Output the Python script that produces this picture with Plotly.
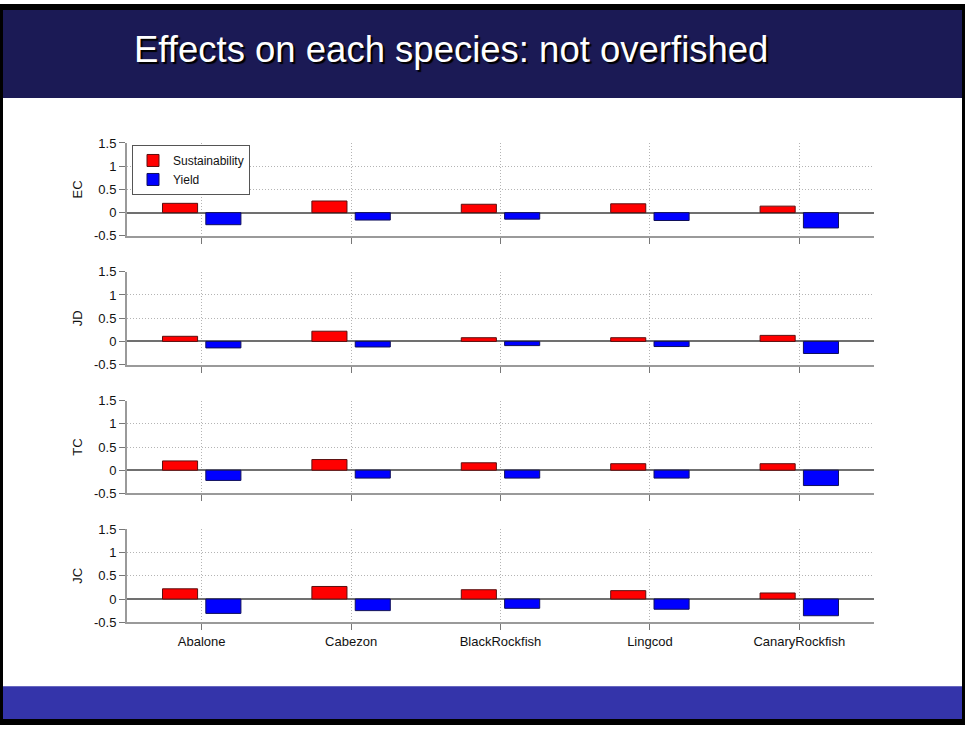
import plotly.graph_objects as go

# data
species = ["Abalone", "Cabezon", "BlackRockfish", "Lingcod", "CanaryRockfish"]
panels = ["EC", "JD", "TC", "JC"]

sustain_ec = [0.20, 0.25, 0.18, 0.19, 0.14]
yield_ec = [-0.26, -0.16, -0.14, -0.17, -0.33]
sustain_jd = [0.11, 0.22, 0.08, 0.08, 0.13]
yield_jd = [-0.14, -0.12, -0.09, -0.11, -0.26]
sustain_tc = [0.20, 0.23, 0.16, 0.14, 0.14]
yield_tc = [-0.22, -0.17, -0.17, -0.17, -0.33]
sustain_jc = [0.22, 0.27, 0.20, 0.18, 0.13]
yield_jc = [-0.31, -0.25, -0.20, -0.22, -0.36]

y_ticks = [-0.5, 0, 0.5, 1, 1.5]
y_ticktext = ["-0.5", "0", "0.5", "1", "1.5"]

sustain_all = [sustain_ec, sustain_jd, sustain_tc, sustain_jc]
yield_all = [yield_ec, yield_jd, yield_tc, yield_jc]

W, H = 965, 730
xpos = list(range(1, len(species) + 1))
FONT = "Liberation Sans, Arial, sans-serif"


def py(y):
    # pixel row on the slide -> paper fraction (small correction for the page capture)
    return 1 - ((y - 5.8) / 0.981) / H


# pixel extents of each panel (top = 1.5, bottom = -0.5)
panel_px = [(142, 235), (271, 364), (400, 493), (529, 622)]

fig = go.Figure()

for i, name in enumerate(panels):
    ax = "" if i == 0 else str(i + 1)
    fig.add_trace(go.Bar(
        x=xpos, y=sustain_all[i], name="Sustainability",
        marker=dict(color="#ff0000", line=dict(color="#5a1010", width=1)),
        showlegend=(i == 0), xaxis="x" + ax, yaxis="y" + ax,
    ))
    fig.add_trace(go.Bar(
        x=xpos, y=yield_all[i], name="Yield",
        marker=dict(color="#0000ff", line=dict(color="#10105a", width=1)),
        showlegend=(i == 0), xaxis="x" + ax, yaxis="y" + ax,
    ))

    top, bot = panel_px[i]
    last = i == len(panels) - 1
    fig.layout["xaxis" + ax] = dict(
        domain=[127 / W, 874 / W],
        range=[0.5, 5.5],
        anchor="y" + ax,
        tickvals=xpos,
        ticktext=species,
        showticklabels=last,
        ticks="outside", ticklen=6, tickcolor="#777777", tickwidth=1,
        showgrid=True, gridcolor="#b4b4b4", griddash="1px,2px", gridwidth=1,
        showline=True, linecolor="#9a9a9a", linewidth=2,
        zeroline=False,
        tickfont=dict(size=13, color="#111111", family=FONT),
        fixedrange=True,
    )
    fig.layout["yaxis" + ax] = dict(
        domain=[py(bot), py(top)],
        range=[-0.5, 1.5],
        anchor="x" + ax,
        tickvals=y_ticks, ticktext=y_ticktext,
        ticks="outside", ticklen=6, tickcolor="#777777",
        showgrid=True, gridcolor="#b4b4b4", griddash="1px,2px", gridwidth=1,
        showline=True, linecolor="#9a9a9a", linewidth=2,
        zeroline=True, zerolinecolor="#707070", zerolinewidth=1.5,
        tickfont=dict(size=13, color="#111111", family=FONT),
        title=dict(text=name, standoff=8,
                   font=dict(size=13, color="#111111", family=FONT)),
        fixedrange=True,
    )

# slide decoration: header band, footer band, black frame
fig.add_shape(type="rect", xref="paper", yref="paper", x0=0, x1=1, y0=py(97), y1=1,
              fillcolor="#1b1a55", line_width=0, layer="below")
fig.add_shape(type="rect", xref="paper", yref="paper", x0=0, x1=1, y0=0, y1=py(686),
              fillcolor="#3434aa", line_width=0, layer="below")
fig.add_shape(type="rect", xref="paper", yref="paper", x0=0, x1=1, y0=0, y1=1,
              fillcolor="rgba(0,0,0,0)", line=dict(color="#000000", width=6))

fig.add_annotation(
    text="Effects on each species: not overfished",
    xref="paper", yref="paper", x=451 / W, y=py(48),
    xanchor="center", yanchor="middle", showarrow=False,
    font=dict(size=36.5, color="#ffffff", family=FONT,
              shadow="2px 2px 1px #000000"),
)

fig.update_layout(
    width=W, height=H,
    margin=dict(l=0, r=0, t=0, b=0),
    paper_bgcolor="#ffffff", plot_bgcolor="#ffffff",
    barmode="group", bargap=0.42, bargroupgap=0.19,
    legend=dict(
        x=132 / W, y=py(144), xanchor="left", yanchor="top",
        bgcolor="#ffffff", bordercolor="#555555", borderwidth=1,
        font=dict(size=12, color="#111111", family=FONT),
        tracegroupgap=0, itemwidth=30,
    ),
    font=dict(family=FONT),
)

fig.write_html(
    "out.html", config={"displayModeBar": False},
    post_script=(
        "document.documentElement.style.overflow='hidden';"
        "document.body.style.margin='0';"
        "document.body.style.overflow='hidden';"
    ),
)
